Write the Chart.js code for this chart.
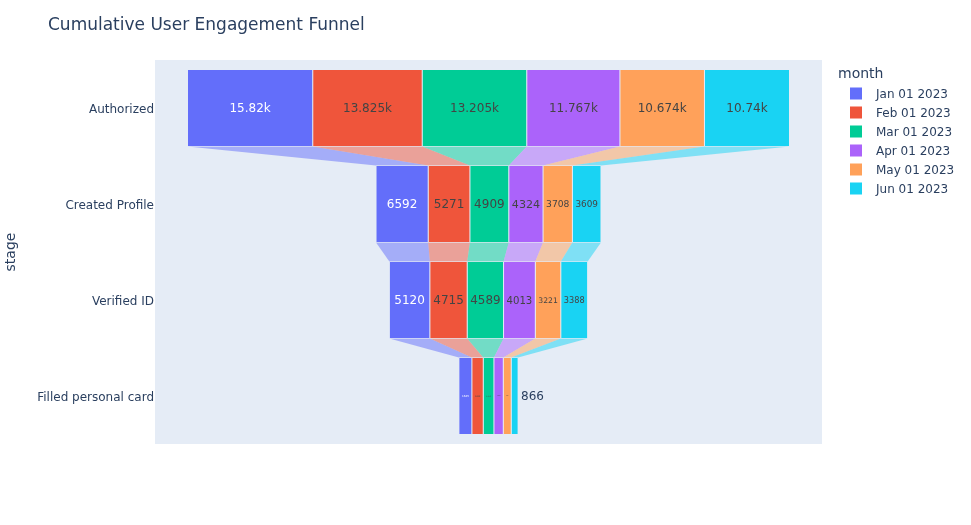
<!DOCTYPE html>
<html>
<head>
<meta charset="utf-8">
<script src="https://cdn.jsdelivr.net/npm/chart.js@4"></script>
<style>
  body { margin: 0; background: #fff; }
  #wrap { width: 971px; height: 525px; position: relative; }
</style>
</head>
<body>
<div id="wrap"><canvas id="funnel"></canvas></div>
<script>
const stages = ['Authorized', 'Created Profile', 'Verified ID', 'Filled personal card'];
const months = ['Jan 01 2023', 'Feb 01 2023', 'Mar 01 2023', 'Apr 01 2023', 'May 01 2023', 'Jun 01 2023'];
const jan = [15820, 6592, 5120, 1645];
const feb = [13825, 5271, 4715, 1432];
const mar = [13205, 4909, 4589, 1350];
const apr = [11767, 4324, 4013, 1180];
const may = [10674, 3708, 3221, 1005];
const jun = [10740, 3609, 3388, 866];
const colors = ['#636efa', '#EF553B', '#00cc96', '#ab63fa', '#FFA15A', '#19d3f3'];

const series = [jan, feb, mar, apr, may, jun];
const FONT = '"DejaVu Sans", Verdana, sans-serif';
const INK = '#2a3f5f';

// funnel: each stage centred on zero, months stacked left to right
const totals = stages.map((_, i) => series.reduce((s, arr) => s + arr[i], 0));
const starts = totals.map(t => -t / 2);
const datasets = series.map((vals, k) => {
  const data = vals.map((v, i) => {
    const a = starts[i];
    starts[i] += v;
    return [a, a + v];
  });
  return {
    label: months[k],
    data,
    values: vals,
    backgroundColor: colors[k],
    borderColor: '#E5ECF6',
    borderWidth: 0.5,
    borderSkipped: false,
    barPercentage: 0.8,
    categoryPercentage: 1
  };
});

function hexA(hex, a) {
  const n = parseInt(hex.slice(1), 16);
  return `rgba(${n >> 16},${(n >> 8) & 255},${n & 255},${a})`;
}

function fmt(v) {
  return v >= 10000 ? (v / 1000) + 'k' : String(v);
}

// text centred vertically on its cap height
function textAt(ctx, txt, x, cy, size) {
  ctx.font = `${size}px ${FONT}`;
  ctx.textBaseline = 'alphabetic';
  ctx.fillText(txt, x, cy + size * 0.36);
}

const funnelPlugin = {
  id: 'funnelExtras',
  beforeDraw(chart) {
    const { ctx, chartArea: ca } = chart;
    ctx.save();
    ctx.fillStyle = '#E5ECF6';
    ctx.fillRect(ca.left, ca.top, ca.right - ca.left, ca.bottom - ca.top);
    ctx.restore();
  },
  beforeDatasetsDraw(chart) {
    // connectors between stages
    const ctx = chart.ctx;
    ctx.save();
    chart.data.datasets.forEach((ds, k) => {
      const bars = chart.getDatasetMeta(k).data;
      ctx.fillStyle = hexA(colors[k], 0.5);
      for (let i = 0; i < bars.length - 1; i++) {
        const a = bars[i], b = bars[i + 1];
        const aBot = a.y + a.height / 2, bTop = b.y - b.height / 2;
        const ax0 = Math.min(a.x, a.base), ax1 = Math.max(a.x, a.base);
        const bx0 = Math.min(b.x, b.base), bx1 = Math.max(b.x, b.base);
        ctx.beginPath();
        ctx.moveTo(ax0, aBot);
        ctx.lineTo(ax1, aBot);
        ctx.lineTo(bx1, bTop);
        ctx.lineTo(bx0, bTop);
        ctx.closePath();
        ctx.fill();
      }
    });
    ctx.restore();
  },
  afterDraw(chart) {
    const { ctx, chartArea: ca } = chart;
    const yScale = chart.scales.y;
    ctx.save();

    // title
    ctx.fillStyle = INK;
    ctx.textAlign = 'left';
    textAt(ctx, 'Cumulative User Engagement Funnel', 48, 24, 17);

    // y tick labels
    ctx.textAlign = 'right';
    stages.forEach((s, i) => {
      textAt(ctx, s, ca.left - 1, yScale.getPixelForValue(i) + 0.5, 12);
    });

    // y axis title
    ctx.save();
    ctx.translate(10, (ca.top + ca.bottom) / 2);
    ctx.rotate(-Math.PI / 2);
    ctx.textAlign = 'center';
    textAt(ctx, 'stage', 0, 0, 14);
    ctx.restore();

    // bar texts
    const last = chart.data.datasets.length - 1;
    chart.data.datasets.forEach((ds, k) => {
      chart.getDatasetMeta(k).data.forEach((bar, i) => {
        const txt = fmt(ds.values[i]);
        const w = Math.abs(bar.x - bar.base);
        ctx.font = `12px ${FONT}`;
        const tw = ctx.measureText(txt).width;
        const scale = Math.min(1, (w - 6) / tw);
        const cx = (bar.x + bar.base) / 2;
        if (k === last && scale < 0.4) {
          ctx.fillStyle = INK;
          ctx.textAlign = 'left';
          textAt(ctx, txt, Math.max(bar.x, bar.base) + 3, bar.y, 12);
          return;
        }
        if (scale <= 0) return;
        ctx.fillStyle = k === 0 ? '#ffffff' : '#444444';
        ctx.textAlign = 'center';
        textAt(ctx, txt, cx, bar.y, 12 * scale);
      });
    });

    // legend
    ctx.textAlign = 'left';
    ctx.fillStyle = INK;
    textAt(ctx, 'month', 838, 73, 14);
    months.forEach((m, k) => {
      const y = 93.5 + k * 19;
      ctx.fillStyle = colors[k];
      ctx.fillRect(850, y - 6, 12, 12);
      ctx.fillStyle = INK;
      textAt(ctx, m, 876, y, 12);
    });
    ctx.restore();
  }
};

new Chart(document.getElementById('funnel'), {
  type: 'bar',
  data: { labels: stages, datasets },
  options: {
    indexAxis: 'y',
    responsive: true,
    maintainAspectRatio: false,
    animation: false,
    layout: { padding: { left: 155, right: 149, top: 60, bottom: 81 } },
    scales: {
      x: { display: false, stacked: false, min: -42121, max: 42121 },
      y: { display: false, stacked: true, grid: { display: false } }
    },
    plugins: {
      legend: { display: false },
      tooltip: { enabled: false }
    }
  },
  plugins: [funnelPlugin]
});
</script>
</body>
</html>
